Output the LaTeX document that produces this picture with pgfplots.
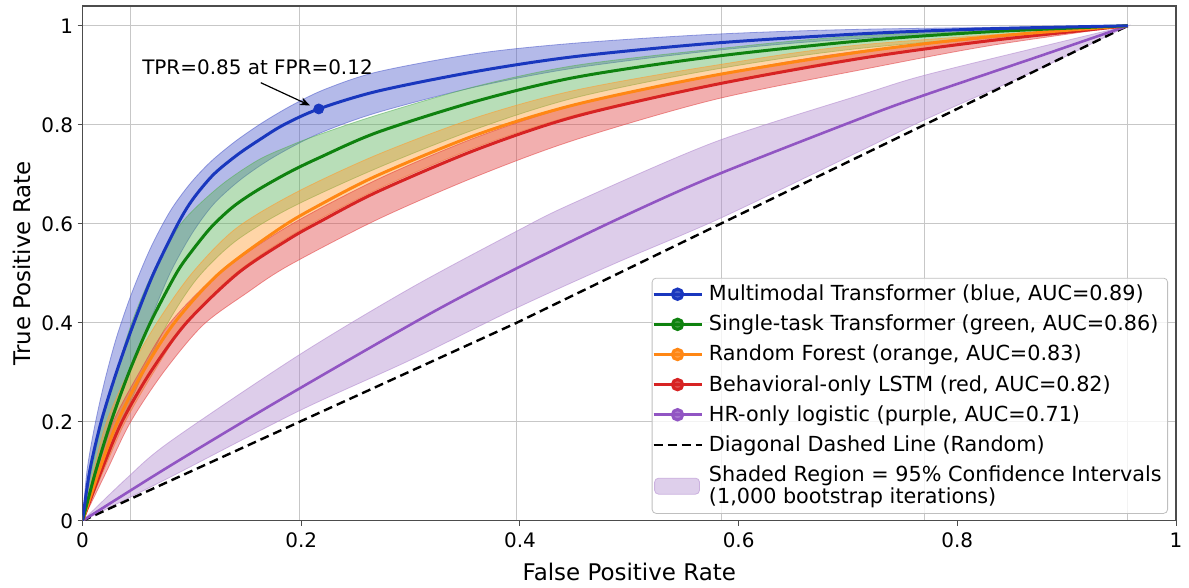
\documentclass[border=0pt]{standalone}
\usepackage{fontspec}
\setmainfont{DejaVu Sans}
\usepackage{pgfplots}
\pgfplotsset{compat=1.18}
\usepgfplotslibrary{fillbetween}
\usetikzlibrary{arrows.meta}

\definecolor{lblue}{RGB}{25,55,190}
\definecolor{fblue}{RGB}{76,90,202}
\definecolor{lgreen}{RGB}{15,130,15}
\definecolor{fgreen}{RGB}{86,176,86}
\definecolor{lorange}{RGB}{255,135,20}
\definecolor{forange}{RGB}{255,155,45}
\definecolor{lred}{RGB}{215,35,35}
\definecolor{fred}{RGB}{225,65,65}
\definecolor{lpurple}{RGB}{145,85,195}
\definecolor{fpurple}{RGB}{175,135,205}

\newcommand\ls{\rule[-2.8pt]{0pt}{10.8pt}}

\pgfplotsset{
  mkleg/.style={legend image code/.code={\draw[mark repeat=2,mark phase=2,##1] plot coordinates {(0pt,0pt) (12pt,0pt) (24pt,0pt)};}},
  lnleg/.style={legend image code/.code={\draw[##1] (0pt,0pt) -- (24pt,0pt);}},
  patchleg/.style={legend image code/.code={\draw[##1] (0.5pt,-4pt) rectangle (23pt,4pt);}},
  band/.style={draw=none, smooth, tension=0.5, forget plot},
  bandfill/.style={fill=#1, fill opacity=0.42, draw=#1, draw opacity=0.55, line width=0.4pt, forget plot},
  curve/.style={smooth, tension=0.5, line width=1.5pt, forget plot, mark=none},
}

\begin{document}
\begin{tikzpicture}
\begin{axis}[
  scale only axis, width=548pt, height=258pt,
  xmin=0, xmax=1, ymin=0, ymax=1.04,
  xtick={0,0.2,0.4,0.6,0.8,1}, ytick={0,0.2,0.4,0.6,0.8,1},
  extra x ticks={0.044,0.198,0.397,0.584,0.77,0.956},
  extra x tick labels={},
  extra x tick style={grid=major, major tick length=0pt},
  ymajorgrids=true,
  grid style={black!22, line width=0.5pt},
  tick align=outside, major tick length=2.5pt,
  xtick pos=bottom, ytick pos=left,
  tick style={black!70, line width=0.5pt},
  axis line style={black!70, line width=0.6pt},
  /pgf/number format/assume math mode=true,
  ticklabel style={font=\fontsize{10}{12}\selectfont},
  yticklabel style={inner xsep=2pt},
  label style={font=\fontsize{11.5}{13}\selectfont},
  xlabel={False Positive Rate},
  ylabel={True Positive Rate},
  xlabel style={yshift=2pt},
  legend style={at={(1,0)}, anchor=south east, xshift=-4pt, yshift=3.5pt,
    draw=black!25, rounded corners=2pt, fill=white, fill opacity=0.8,
    draw opacity=1, text opacity=1,
    font=\fontsize{10.4}{11.2}\selectfont,
    inner xsep=0pt, inner ysep=0.5pt, row sep=0pt,
    nodes={inner xsep=3pt, inner ysep=2.8pt, align=left}},
  legend cell align=left,
]

% confidence bands
\addplot[band, name path=bU] coordinates {(0,0)(0.004,0.1)(0.011,0.19)(0.02,0.28)(0.031,0.37)(0.045,0.46)(0.062,0.55)(0.08,0.625)(0.098,0.68)(0.117,0.725)(0.14,0.767)(0.165,0.805)(0.192,0.84)(0.222,0.872)(0.27,0.907)(0.3605,0.944)(0.451,0.965)(0.578,0.983)(0.714,0.993)(0.956,1)};
\addplot[band, name path=bL] coordinates {(0,0)(0.012,0.1)(0.027,0.2)(0.043,0.3)(0.061,0.4)(0.08,0.5)(0.1,0.58)(0.12,0.64)(0.145,0.69)(0.175,0.735)(0.216,0.782)(0.27,0.825)(0.3605,0.877)(0.451,0.915)(0.578,0.95)(0.714,0.975)(0.956,1)};
\addplot[bandfill=fblue] fill between[of=bU and bL];

\addplot[band, name path=gU] coordinates {(0,0)(0.008,0.1)(0.018,0.2)(0.031,0.3)(0.045,0.4)(0.064,0.5)(0.09,0.6)(0.125,0.675)(0.16,0.728)(0.19,0.758)(0.216,0.78)(0.27,0.82)(0.3605,0.878)(0.451,0.92)(0.578,0.953)(0.714,0.98)(0.956,1)};
\addplot[band, name path=gL] coordinates {(0,0)(0.018,0.1)(0.036,0.2)(0.056,0.3)(0.078,0.4)(0.105,0.49)(0.14,0.565)(0.19,0.632)(0.27,0.713)(0.3605,0.792)(0.451,0.855)(0.578,0.912)(0.714,0.955)(0.956,1)};
\addplot[bandfill=fgreen] fill between[of=gU and gL];

\addplot[band, name path=oU] coordinates {(0,0)(0.01,0.1)(0.022,0.2)(0.042,0.3)(0.068,0.4)(0.1,0.5)(0.14,0.59)(0.195,0.663)(0.27,0.74)(0.3605,0.815)(0.451,0.87)(0.578,0.92)(0.714,0.962)(0.956,1)};
\addplot[band, name path=oL] coordinates {(0,0)(0.019,0.1)(0.039,0.2)(0.065,0.3)(0.095,0.4)(0.14,0.5)(0.195,0.582)(0.27,0.67)(0.3605,0.755)(0.451,0.82)(0.578,0.882)(0.714,0.937)(0.956,1)};
\addplot[bandfill=forange] fill between[of=oU and oL];

\addplot[band, name path=rU] coordinates {(0,0)(0.013,0.1)(0.028,0.2)(0.052,0.3)(0.08,0.4)(0.125,0.5)(0.188,0.595)(0.27,0.69)(0.3605,0.775)(0.451,0.84)(0.578,0.9)(0.714,0.95)(0.956,1)};
\addplot[band, name path=rL] coordinates {(0,0)(0.022,0.1)(0.044,0.2)(0.074,0.3)(0.11,0.395)(0.15,0.46)(0.188,0.515)(0.27,0.609)(0.3605,0.696)(0.451,0.77)(0.578,0.851)(0.714,0.912)(0.83,0.96)(0.956,1)};
\addplot[bandfill=fred] fill between[of=rU and rL];

\addplot[band, name path=pU] coordinates {(0,0)(0.04,0.085)(0.08,0.16)(0.198,0.335)(0.3,0.47)(0.397,0.585)(0.447,0.64)(0.578,0.765)(0.714,0.862)(0.77,0.9)(0.877,0.958)(0.956,1)};
\addplot[band, name path=pL] coordinates {(0,0)(0.08,0.088)(0.198,0.222)(0.3,0.325)(0.397,0.43)(0.487,0.52)(0.584,0.612)(0.714,0.75)(0.77,0.81)(0.877,0.915)(0.956,1)};
\addplot[bandfill=fpurple] fill between[of=pU and pL];

% diagonal
\addplot[black, line width=1.2pt, dash pattern=on 4.5pt off 2.5pt, forget plot] coordinates {(0,0)(0.397,0.4)(0.77,0.8)(0.956,1)};

% ROC curves
\addplot[curve, lpurple, line width=1.3pt] coordinates {(0,0)(0.08,0.111)(0.185,0.25)(0.315,0.415)(0.397,0.51)(0.487,0.607)(0.578,0.697)(0.714,0.815)(0.77,0.86)(0.877,0.94)(0.956,1)};
\addplot[curve, lred] coordinates {(0,0)(0.017,0.1)(0.036,0.2)(0.062,0.3)(0.095,0.4)(0.142,0.5)(0.188,0.568)(0.216,0.603)(0.27,0.665)(0.3605,0.75)(0.451,0.817)(0.578,0.881)(0.714,0.935)(0.83,0.97)(0.956,1)};
\addplot[curve, lorange] coordinates {(0,0)(0.015,0.1)(0.032,0.2)(0.055,0.3)(0.084,0.4)(0.125,0.5)(0.18,0.59)(0.216,0.637)(0.27,0.698)(0.3605,0.78)(0.451,0.841)(0.578,0.9)(0.714,0.948)(0.83,0.978)(0.956,1)};
\addplot[curve, lgreen] coordinates {(0,0)(0.012,0.1)(0.026,0.2)(0.0425,0.3)(0.062,0.4)(0.0858,0.5)(0.1,0.545)(0.118,0.594)(0.138,0.635)(0.16,0.668)(0.188,0.703)(0.216,0.733)(0.27,0.785)(0.3605,0.848)(0.451,0.896)(0.578,0.938)(0.714,0.97)(0.83,0.988)(0.956,1)};
\addplot[curve, lblue] coordinates {(0,0)(0.0065,0.1)(0.017,0.2)(0.031,0.3)(0.047,0.4)(0.065,0.5)(0.0872,0.6)(0.101,0.65)(0.12,0.7)(0.142,0.74)(0.162,0.77)(0.184,0.8)(0.216,0.832)(0.27,0.868)(0.3605,0.908)(0.451,0.938)(0.578,0.965)(0.714,0.984)(0.83,0.994)(0.956,1)};

% highlighted operating point
\addplot[only marks, mark=*, mark size=2.5pt, lblue, forget plot] coordinates {(0.216,0.832)};
\node[font=\fontsize{10}{12}\selectfont] at (axis cs:0.16,0.917) {TPR=0.85 at FPR=0.12};
\draw[-{Stealth[length=5pt,width=4pt]}, line width=0.6pt] (axis cs:0.163,0.885) -- (axis cs:0.208,0.839);

% legend
\addlegendimage{mkleg, lblue, line width=1.5pt, mark=*, mark size=2.6pt}
\addlegendentry{\ls Multimodal Transformer (blue, AUC=0.89)}
\addlegendimage{mkleg, lgreen, line width=1.5pt, mark=*, mark size=2.6pt}
\addlegendentry{\ls Single-task Transformer (green, AUC=0.86)}
\addlegendimage{mkleg, lorange, line width=1.5pt, mark=*, mark size=2.6pt}
\addlegendentry{\ls Random Forest (orange, AUC=0.83)}
\addlegendimage{mkleg, lred, line width=1.5pt, mark=*, mark size=2.6pt}
\addlegendentry{\ls Behavioral-only LSTM (red, AUC=0.82)}
\addlegendimage{mkleg, lpurple, line width=1.5pt, mark=*, mark size=2.6pt}
\addlegendentry{\ls HR-only logistic (purple, AUC=0.71)}
\addlegendimage{lnleg, black, line width=1.2pt, dash pattern=on 4.5pt off 2.5pt}
\addlegendentry{\ls Diagonal Dashed Line (Random)}
\addlegendimage{patchleg, fill=fpurple!50, draw=fpurple!65, line width=0.4pt}
\addlegendentry{\ls Shaded Region = 95\% Confidence Intervals\\(1,000 bootstrap iterations)\ls}
\end{axis}
\path (current axis.north west) ++(0,3pt) coordinate (tp);
\path (tp) -- ([xshift=-3pt]current axis.outer west);
\end{tikzpicture}
\end{document}
